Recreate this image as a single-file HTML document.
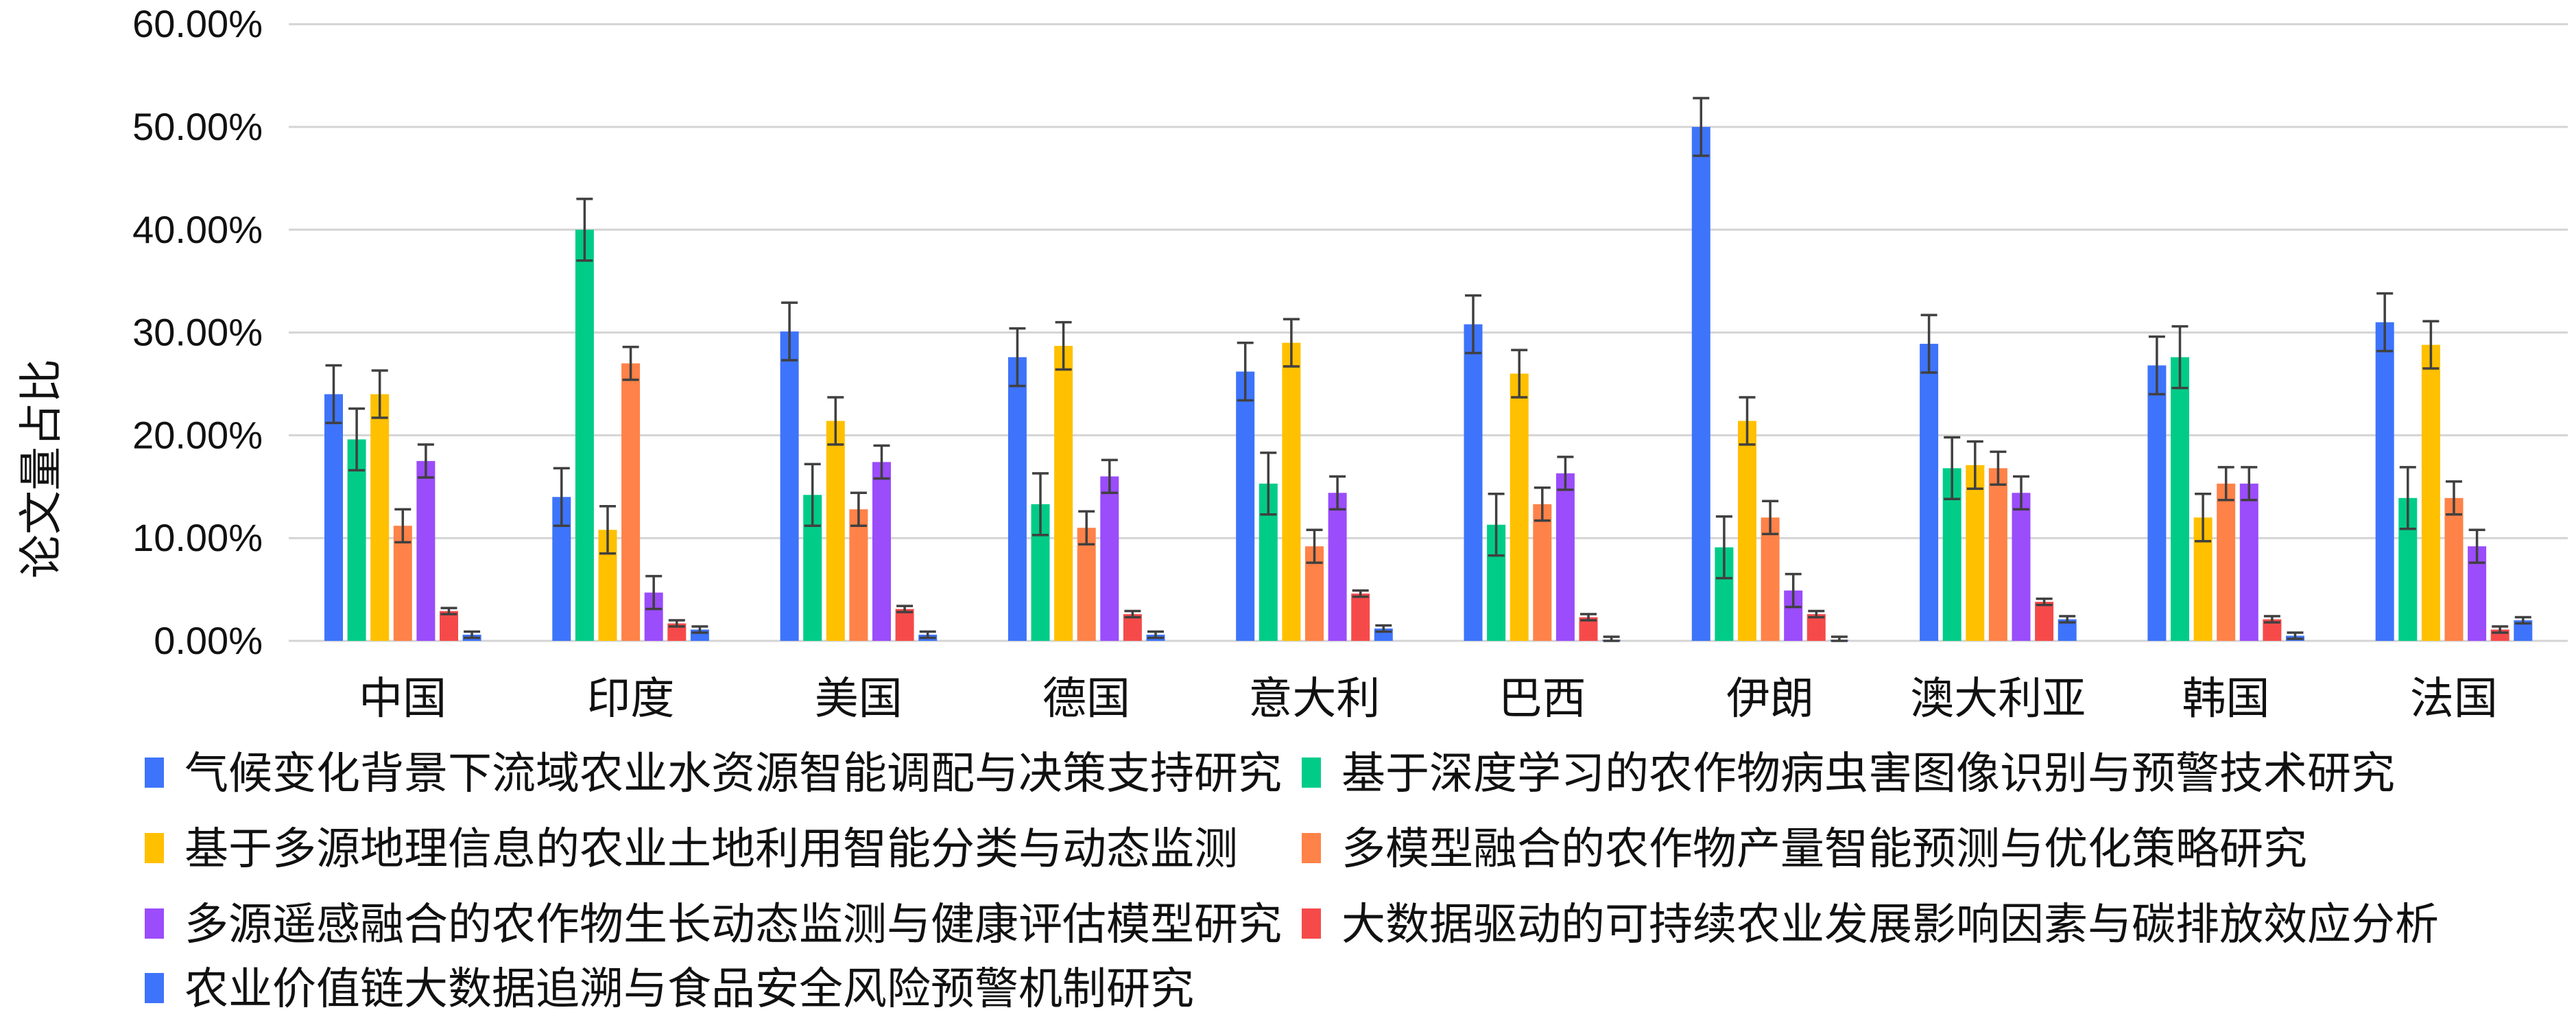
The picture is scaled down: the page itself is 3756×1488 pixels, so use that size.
<!DOCTYPE html>
<html><head><meta charset="utf-8">
<style>
html,body{margin:0;padding:0;background:#fff;}
svg{display:block;font-family:"Liberation Sans","Noto Sans CJK SC",sans-serif;}
</style></head>
<body>
<svg id="c" width="3756" height="1488" xmlns="http://www.w3.org/2000/svg"></svg>
<script>
const svg=document.getElementById('c');
let h='';
const y0=934, unit=14.98;
const L=421,R=3744,G=332.3;
for(let i=0;i<=6;i++){
  const y=y0-i*10*unit;
  h+=`<line x1="${L}" x2="${R}" y1="${y}" y2="${y}" stroke="#d4d4d4" stroke-width="3"/>`;
  h+=`<text x="383" y="${y+19}" font-size="56" text-anchor="end" fill="#111">${(i*10).toFixed(2)}%</text>`;
}
h+=`<text transform="translate(82,683) rotate(-90)" font-size="64" text-anchor="middle" fill="#111">论文量占比</text>`;
const cols=['#3e74fb','#00cc88','#ffc000','#ff8248','#9b4cfb','#f64a4a','#3e74fb'];
const errs=[2.8,3,2.3,1.6,1.6,0.3,0.3];
const cats=['中国','印度','美国','德国','意大利','巴西','伊朗','澳大利亚','韩国','法国'];
const data=[
[24,19.6,24,11.2,17.5,2.9,0.6],
[14,40,10.8,27,4.7,1.7,1.1],
[30.1,14.2,21.4,12.8,17.4,3.1,0.6],
[27.6,13.3,28.7,11,16,2.6,0.6],
[26.2,15.3,29,9.2,14.4,4.6,1.2],
[30.8,11.3,26,13.3,16.3,2.3,0.1],
[50,9.1,21.4,12,4.9,2.6,0.1],
[28.9,16.8,17.1,16.8,14.4,3.8,2.1],
[26.8,27.6,12,15.3,15.3,2.1,0.5],
[31,13.9,28.8,13.9,9.2,1.1,2.0]];
data.forEach((row,g)=>{
  const gx=L+g*G;
  row.forEach((v,k)=>{
    const x=gx+52+k*33.6, w=27;
    const top=y0-v*unit;
    h+=`<rect x="${x}" y="${top}" width="${w}" height="${v*unit}" fill="${cols[k]}"/>`;
    const e=errs[k];
    const a=y0-(v+e)*unit, b=y0-Math.max(0,v-e)*unit, cx=x+w/2;
    h+=`<g stroke="#404040" stroke-width="3.5"><line x1="${cx}" x2="${cx}" y1="${a}" y2="${b}"/><line x1="${cx-12}" x2="${cx+12}" y1="${a}" y2="${a}"/><line x1="${cx-12}" x2="${cx+12}" y1="${b}" y2="${b}"/></g>`;
  });
  h+=`<text x="${gx+G/2}" y="1040" font-size="64" text-anchor="middle" fill="#111">${cats[g]}</text>`;
});
const leg=[
['气候变化背景下流域农业水资源智能调配与决策支持研究',211,1126,0],
['基于深度学习的农作物病虫害图像识别与预警技术研究',1898,1126,1],
['基于多源地理信息的农业土地利用智能分类与动态监测',211,1236,2],
['多模型融合的农作物产量智能预测与优化策略研究',1898,1236,3],
['多源遥感融合的农作物生长动态监测与健康评估模型研究',211,1346,4],
['大数据驱动的可持续农业发展影响因素与碳排放效应分析',1898,1346,5],
['农业价值链大数据追溯与食品安全风险预警机制研究',211,1440,6]];
leg.forEach(([t,x,y,k])=>{
  h+=`<rect x="${x}" y="${y-22}" width="28" height="44" fill="${cols[k]}"/>`;
  h+=`<text x="${x+58}" y="${y+23}" font-size="64" fill="#111">${t}</text>`;
});
svg.innerHTML=h;
</script>
</body></html>
